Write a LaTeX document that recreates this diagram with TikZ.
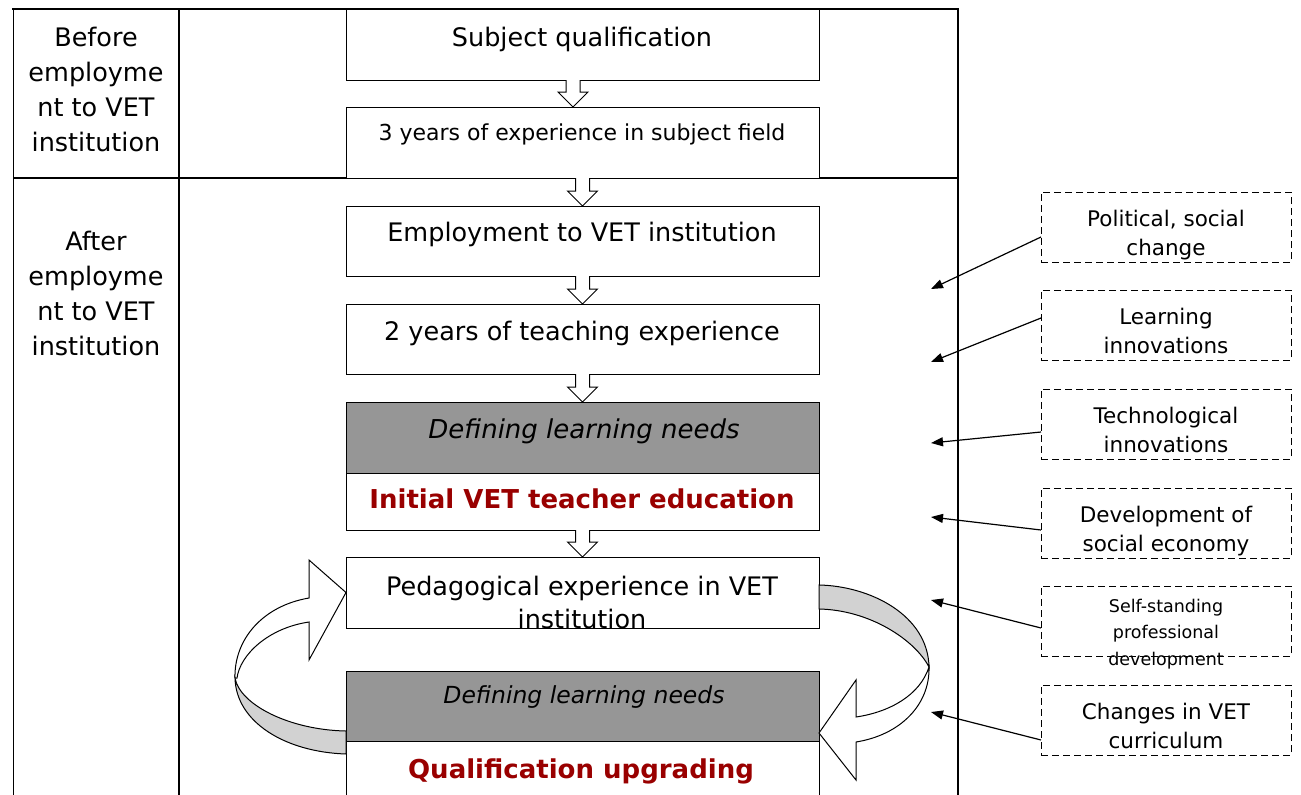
\documentclass[tikz,border=0pt]{standalone}
\usepackage{fontspec}
\setmainfont{DejaVu Sans}
\usetikzlibrary{calc,arrows.meta}
\definecolor{boxgray}{RGB}{150,150,150}
\definecolor{bandgray}{RGB}{210,210,210}
\definecolor{darkred}{RGB}{153,0,0}
% block arrow between two stacked boxes: #1 upper node, #2 lower node, #3 horizontal shift
\newcommand\blkarrow[3]{%
  \draw[blk] ($(#1.south)+(#3-7,0)$) -- ($(#2.north)+(#3-7,-15)$) -- ($(#2.north)+(#3-15,-15)$)
    -- ($(#2.north)+(#3,0)$) -- ($(#2.north)+(#3+15,-15)$) -- ($(#2.north)+(#3+7,-15)$)
    -- ($(#1.south)+(#3+7,0)$);}
\begin{document}
\begin{tikzpicture}[x=1pt,y=-1pt,
  box/.style={draw, line width=1pt, fill=white, minimum width=473pt, anchor=north west, inner sep=0pt, outer sep=0pt},
  graybox/.style={box, fill=boxgray},
  dbox/.style={draw, line width=1pt, dash pattern=on 7pt off 4pt, minimum width=250pt, minimum height=70pt, anchor=north west, inner sep=0pt, outer sep=0pt},
  maintxt/.style={anchor=base, inner sep=0pt, font=\fontsize{25.5}{35}\selectfont, align=center},
  sidetxt/.style={anchor=base, inner sep=0pt, font=\fontsize{21.5}{29}\selectfont, align=center},
  blk/.style={draw, line width=1pt, fill=white},
  infl/.style={line width=1.2pt, -{Triangle[length=12pt,width=9pt]}},
  band/.style={draw, line width=1pt, fill=bandgray},
  front/.style={draw, line width=1pt, fill=white, line join=miter},
]
\useasboundingbox (0,0) rectangle (1301,795);
\fill[white] (0,0) rectangle (1301,795);

% table frame
\draw[line width=1pt] (13,9) -- (13,800);
\draw[line width=1.5pt] (179,9) -- (179,800);
\draw[line width=2pt] (958,9) -- (958,800);
\draw[line width=2pt] (12,9) -- (959,9);
\draw[line width=2pt] (13,178) -- (958,178);

% left column labels (anchor = baseline of last line)
\node[maintxt] (before) at (96,151) {Before\\employme\\nt to VET\\institution};
\node[maintxt] (after) at (96,355) {After\\employme\\nt to VET\\institution};

% center boxes
\node[box, minimum height=71pt] (sq) at (346,9) {};
\node[box, minimum height=71pt] (ty) at (346,107) {};
\node[box, minimum height=70pt] (emp) at (346,206) {};
\node[box, minimum height=70pt] (two) at (346,304) {};
\node[graybox, minimum height=71pt] (def1) at (346,402) {};
\node[box, minimum height=57pt] (init) at (346,473) {};
\node[box, minimum height=71pt] (ped) at (346,557) {};
\node[graybox, minimum height=70pt] (def2) at (346,671) {};
\node[box, minimum height=70pt] (qual) at (346,741) {};

\node[maintxt] (sqt) at (582,46) {Subject qualification};
\node[maintxt, font=\fontsize{22}{28}\selectfont] (tyt) at (582,140) {3 years of experience in subject field};
\node[maintxt] (empt) at (582,241) {Employment to VET institution};
\node[maintxt] (twot) at (582,340) {2 years of teaching experience};
\node[maintxt, font=\fontsize{26}{33}\itshape] (def1t) at (584,438) {Defining learning needs};
\node[maintxt, font=\fontsize{26}{33}\bfseries, text=darkred] (initt) at (582,508) {Initial VET teacher education};
\node[maintxt, font=\fontsize{25.5}{33}\selectfont] (pedt) at (582,628) {Pedagogical experience in VET\\institution};
\node[maintxt, font=\fontsize{23.5}{30}\itshape] (def2t) at (584,703) {Defining learning needs};
\node[maintxt, font=\fontsize{26}{33}\bfseries, text=darkred] (qualt) at (581,778) {Qualification upgrading};

% block arrows
\blkarrow{sq}{ty}{-9.5}
\blkarrow{ty}{emp}{0}
\blkarrow{emp}{two}{0}
\blkarrow{two}{def1}{0}
\blkarrow{init}{ped}{0}

% left curved arrow (from qualification upgrading back to pedagogical experience)
\draw[band] (346,754) .. controls (285,752) and (236,722) .. (235,678)
  .. controls (240,705) and (290,730) .. (346,731) -- cycle;
\draw[front] (235,678) .. controls (234,640) and (262,606) .. (309,598)
  -- (309,560) -- (ped.west) -- (309,660) -- (309,622)
  .. controls (268,628) and (240,655) .. (237,678) -- cycle;

% right curved arrow (from pedagogical experience to qualification upgrading)
\draw[band] (819,585) .. controls (870,586) and (928,615) .. (929,667)
  .. controls (915,640) and (870,610) .. (819,609) -- cycle;
\draw[front] (929,667) .. controls (930,705) and (900,735) .. (856,742)
  -- (856,780) -- (819,733) -- (856,680) -- (856,717)
  .. controls (890,712) and (920,695) .. (929,667) -- cycle;

% influences (right column)
\node[dbox] (p1) at (1041,192) {};
\node[dbox] (p2) at (1041,290) {};
\node[dbox] (p3) at (1041,389) {};
\node[dbox] (p4) at (1041,488) {};
\node[dbox] (p5) at (1041,586) {};
\node[dbox] (p6) at (1041,685) {};

\node[sidetxt] (p1t) at (1166,255) {Political, social\\change};
\node[sidetxt] (p2t) at (1166,353) {Learning\\innovations};
\node[sidetxt] (p3t) at (1166,452) {Technological\\innovations};
\node[sidetxt] (p4t) at (1166,551) {Development of\\social economy};
\node[sidetxt, font=\fontsize{17.5}{26.5}\selectfont] (p5t) at (1166,665) {Self-standing\\professional\\development};
\node[sidetxt] (p6t) at (1166,748) {Changes in VET\\curriculum};

\coordinate (t1) at (931,289);
\coordinate (t2) at (931,362);
\coordinate (t3) at (931,443);
\coordinate (t4) at (931,517);
\coordinate (t5) at (931,600);
\coordinate (t6) at (931,712);

\draw[infl] ($(p1.north west)+(0,45)$) -- (t1);
\draw[infl] ($(p2.north west)+(0,28)$) -- (t2);
\draw[infl] ($(p3.north west)+(0,43)$) -- (t3);
\draw[infl] ($(p4.north west)+(0,42)$) -- (t4);
\draw[infl] ($(p5.north west)+(0,42)$) -- (t5);
\draw[infl] ($(p6.north west)+(0,55)$) -- (t6);
\end{tikzpicture}
\end{document}
